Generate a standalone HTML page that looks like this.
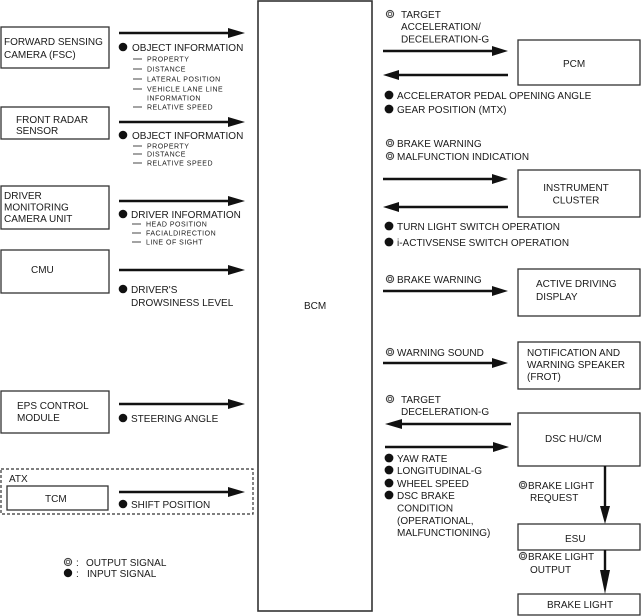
<!DOCTYPE html>
<html>
<head>
<meta charset="utf-8">
<style>
  html,body{margin:0;padding:0;background:#fff;}
  svg{display:block;}
  text{font-family:"Liberation Sans",Arial,sans-serif;fill:#1a1a1a;font-size:10px;}
  .s{font-size:7px;letter-spacing:0.5px;}
  .box{fill:#fff;stroke:#333;stroke-width:1.3;}
  .ln{stroke:#111;stroke-width:2.4;}
  .hd{fill:#111;}
  .sd{stroke:#333;stroke-width:0.9;}
</style>
</head>
<body>
<svg width="642" height="616" viewBox="0 0 642 616" xmlns="http://www.w3.org/2000/svg">
  <!-- BCM -->
  <rect x="258" y="1" width="114" height="610" class="box" style="stroke-width:1.6"/>
  <text x="304" y="309">BCM</text>

  <!-- ===== LEFT SIDE ===== -->
  <!-- FSC -->
  <rect x="1" y="27" width="108" height="41" class="box"/>
  <text x="4" y="45">FORWARD SENSING</text>
  <text x="4" y="58">CAMERA (FSC)</text>
  <line x1="119" y1="33" x2="230" y2="33" class="ln"/>
  <polygon points="228,28 245,33 228,38" class="hd"/>
  <circle cx="123" cy="47" r="4.3" fill="#111"/>
  <text x="132" y="51">OBJECT INFORMATION</text>
  <line x1="133" y1="59" x2="142" y2="59" class="sd"/>
  <text x="147" y="61.5" class="s">PROPERTY</text>
  <line x1="133" y1="69" x2="142" y2="69" class="sd"/>
  <text x="147" y="71.5" class="s">DISTANCE</text>
  <line x1="133" y1="79" x2="142" y2="79" class="sd"/>
  <text x="147" y="81.5" class="s">LATERAL POSITION</text>
  <line x1="133" y1="89" x2="142" y2="89" class="sd"/>
  <text x="147" y="91.5" class="s">VEHICLE LANE LINE</text>
  <text x="147" y="100.5" class="s">INFORMATION</text>
  <line x1="133" y1="107" x2="142" y2="107" class="sd"/>
  <text x="147" y="109.5" class="s">RELATIVE SPEED</text>

  <!-- Front radar -->
  <rect x="1" y="107" width="108" height="32" class="box"/>
  <text x="16" y="123">FRONT RADAR</text>
  <text x="16" y="134">SENSOR</text>
  <line x1="119" y1="122" x2="230" y2="122" class="ln"/>
  <polygon points="228,117 245,122 228,127" class="hd"/>
  <circle cx="123" cy="135" r="4.3" fill="#111"/>
  <text x="132" y="139">OBJECT INFORMATION</text>
  <line x1="133" y1="146" x2="142" y2="146" class="sd"/>
  <text x="147" y="148.5" class="s">PROPERTY</text>
  <line x1="133" y1="154" x2="142" y2="154" class="sd"/>
  <text x="147" y="156.5" class="s">DISTANCE</text>
  <line x1="133" y1="163" x2="142" y2="163" class="sd"/>
  <text x="147" y="165.5" class="s">RELATIVE SPEED</text>

  <!-- Driver monitoring -->
  <rect x="1" y="186" width="108" height="43" class="box"/>
  <text x="4" y="199">DRIVER</text>
  <text x="4" y="210.5">MONITORING</text>
  <text x="4" y="222">CAMERA UNIT</text>
  <line x1="119" y1="201" x2="230" y2="201" class="ln"/>
  <polygon points="228,196 245,201 228,206" class="hd"/>
  <circle cx="123" cy="214" r="4.3" fill="#111"/>
  <text x="131" y="218">DRIVER INFORMATION</text>
  <line x1="132" y1="224" x2="141" y2="224" class="sd"/>
  <text x="146" y="226.5" class="s">HEAD POSITION</text>
  <line x1="132" y1="233" x2="141" y2="233" class="sd"/>
  <text x="146" y="235.5" class="s">FACIALDIRECTION</text>
  <line x1="132" y1="242" x2="141" y2="242" class="sd"/>
  <text x="146" y="244.5" class="s">LINE OF SIGHT</text>

  <!-- CMU -->
  <rect x="1" y="250" width="108" height="43" class="box"/>
  <text x="31" y="273">CMU</text>
  <line x1="119" y1="270" x2="230" y2="270" class="ln"/>
  <polygon points="228,265 245,270 228,275" class="hd"/>
  <circle cx="123" cy="289" r="4.3" fill="#111"/>
  <text x="131" y="293">DRIVER'S</text>
  <text x="131" y="306">DROWSINESS LEVEL</text>

  <!-- EPS -->
  <rect x="1" y="391" width="108" height="42" class="box"/>
  <text x="17" y="409">EPS CONTROL</text>
  <text x="17" y="421">MODULE</text>
  <line x1="119" y1="404" x2="230" y2="404" class="ln"/>
  <polygon points="228,399 245,404 228,409" class="hd"/>
  <circle cx="123" cy="418" r="4.3" fill="#111"/>
  <text x="131" y="422">STEERING ANGLE</text>

  <!-- ATX / TCM -->
  <rect x="1" y="469" width="252" height="45" fill="none" stroke="#333" stroke-width="1.2" stroke-dasharray="3,2"/>
  <text x="9" y="482">ATX</text>
  <rect x="7" y="486" width="101" height="24" class="box"/>
  <text x="45" y="502">TCM</text>
  <line x1="119" y1="492" x2="230" y2="492" class="ln"/>
  <polygon points="228,487 245,492 228,497" class="hd"/>
  <circle cx="123" cy="504" r="4.3" fill="#111"/>
  <text x="131" y="508">SHIFT POSITION</text>

  <!-- Legend -->
  <circle cx="68" cy="562" r="3.6" fill="none" stroke="#444" stroke-width="1.1"/>
  <circle cx="68" cy="562" r="1.8" fill="none" stroke="#444" stroke-width="0.9"/>
  <text x="76" y="566">:</text>
  <text x="86" y="566">OUTPUT SIGNAL</text>
  <circle cx="68" cy="573" r="4.2" fill="#111"/>
  <text x="76" y="577">:</text>
  <text x="87" y="577">INPUT SIGNAL</text>

  <!-- ===== RIGHT SIDE ===== -->
  <!-- PCM -->
  <circle cx="390" cy="14" r="3.6" fill="none" stroke="#444" stroke-width="1.1"/>
  <circle cx="390" cy="14" r="1.8" fill="none" stroke="#444" stroke-width="0.9"/>
  <text x="401" y="18">TARGET</text>
  <text x="401" y="30">ACCELERATION/</text>
  <text x="401" y="42.5">DECELERATION-G</text>
  <line x1="383" y1="51" x2="494" y2="51" class="ln"/>
  <polygon points="492,46 508,51 492,56" class="hd"/>
  <line x1="397" y1="75" x2="508" y2="75" class="ln"/>
  <polygon points="399,70 383,75 399,80" class="hd"/>
  <rect x="518" y="40" width="122" height="45" class="box"/>
  <text x="563" y="67">PCM</text>
  <circle cx="389" cy="95" r="4.4" fill="#111"/>
  <text x="397" y="99">ACCELERATOR PEDAL OPENING ANGLE</text>
  <circle cx="389" cy="109" r="4.4" fill="#111"/>
  <text x="397" y="113">GEAR POSITION (MTX)</text>

  <!-- Instrument cluster -->
  <circle cx="390" cy="143" r="3.6" fill="none" stroke="#444" stroke-width="1.1"/>
  <circle cx="390" cy="143" r="1.8" fill="none" stroke="#444" stroke-width="0.9"/>
  <text x="397" y="147">BRAKE WARNING</text>
  <circle cx="390" cy="156" r="3.6" fill="none" stroke="#444" stroke-width="1.1"/>
  <circle cx="390" cy="156" r="1.8" fill="none" stroke="#444" stroke-width="0.9"/>
  <text x="397" y="160">MALFUNCTION INDICATION</text>
  <line x1="383" y1="179" x2="494" y2="179" class="ln"/>
  <polygon points="492,174 508,179 492,184" class="hd"/>
  <line x1="397" y1="207" x2="508" y2="207" class="ln"/>
  <polygon points="399,202 383,207 399,212" class="hd"/>
  <rect x="518" y="170" width="122" height="47" class="box"/>
  <text x="576" y="191" text-anchor="middle">INSTRUMENT</text>
  <text x="576" y="203.5" text-anchor="middle">CLUSTER</text>
  <circle cx="389" cy="226" r="4.4" fill="#111"/>
  <text x="397" y="230">TURN LIGHT SWITCH OPERATION</text>
  <circle cx="389" cy="242" r="4.4" fill="#111"/>
  <text x="397" y="246">i-ACTIVSENSE SWITCH OPERATION</text>

  <!-- Active driving display -->
  <circle cx="390" cy="279" r="3.6" fill="none" stroke="#444" stroke-width="1.1"/>
  <circle cx="390" cy="279" r="1.8" fill="none" stroke="#444" stroke-width="0.9"/>
  <text x="397" y="283">BRAKE WARNING</text>
  <line x1="383" y1="291" x2="494" y2="291" class="ln"/>
  <polygon points="492,286 508,291 492,296" class="hd"/>
  <rect x="518" y="269" width="122" height="47" class="box"/>
  <text x="536" y="287">ACTIVE DRIVING</text>
  <text x="536" y="300">DISPLAY</text>

  <!-- Notification speaker -->
  <circle cx="390" cy="352" r="3.6" fill="none" stroke="#444" stroke-width="1.1"/>
  <circle cx="390" cy="352" r="1.8" fill="none" stroke="#444" stroke-width="0.9"/>
  <text x="397" y="356">WARNING SOUND</text>
  <line x1="383" y1="363" x2="494" y2="363" class="ln"/>
  <polygon points="492,358 508,363 492,368" class="hd"/>
  <rect x="518" y="342" width="122" height="47" class="box"/>
  <text x="527" y="356">NOTIFICATION AND</text>
  <text x="527" y="368">WARNING SPEAKER</text>
  <text x="527" y="380">(FROT)</text>

  <!-- DSC HU/CM -->
  <circle cx="390" cy="399" r="3.6" fill="none" stroke="#444" stroke-width="1.1"/>
  <circle cx="390" cy="399" r="1.8" fill="none" stroke="#444" stroke-width="0.9"/>
  <text x="401" y="403">TARGET</text>
  <text x="401" y="415">DECELERATION-G</text>
  <line x1="400" y1="424" x2="511" y2="424" class="ln"/>
  <polygon points="402,419 385,424 402,429" class="hd"/>
  <line x1="385" y1="447" x2="495" y2="447" class="ln"/>
  <polygon points="493,442 509,447 493,452" class="hd"/>
  <rect x="518" y="413" width="122" height="53" class="box"/>
  <text x="545" y="442">DSC HU/CM</text>
  <circle cx="389" cy="458" r="4.4" fill="#111"/>
  <text x="397" y="462">YAW RATE</text>
  <circle cx="389" cy="470" r="4.4" fill="#111"/>
  <text x="397" y="474">LONGITUDINAL-G</text>
  <circle cx="389" cy="483" r="4.4" fill="#111"/>
  <text x="397" y="487">WHEEL SPEED</text>
  <circle cx="389" cy="495" r="4.4" fill="#111"/>
  <text x="397" y="499">DSC BRAKE</text>
  <text x="397" y="511.5">CONDITION</text>
  <text x="397" y="524">(OPERATIONAL,</text>
  <text x="397" y="536">MALFUNCTIONING)</text>

  <!-- ESU chain -->
  <circle cx="523" cy="485" r="3.6" fill="none" stroke="#444" stroke-width="1.1"/>
  <circle cx="523" cy="485" r="1.8" fill="none" stroke="#444" stroke-width="0.9"/>
  <text x="528" y="489">BRAKE LIGHT</text>
  <text x="530" y="501">REQUEST</text>
  <line x1="605" y1="466" x2="605" y2="508" class="ln"/>
  <polygon points="600,506 605,524 610,506" class="hd"/>
  <rect x="518" y="524" width="122" height="26" class="box"/>
  <text x="565" y="542">ESU</text>
  <circle cx="523" cy="556" r="3.6" fill="none" stroke="#444" stroke-width="1.1"/>
  <circle cx="523" cy="556" r="1.8" fill="none" stroke="#444" stroke-width="0.9"/>
  <text x="528" y="560">BRAKE LIGHT</text>
  <text x="530" y="573">OUTPUT</text>
  <line x1="605" y1="550" x2="605" y2="572" class="ln"/>
  <polygon points="600,570 605,594 610,570" class="hd"/>
  <rect x="518" y="594" width="122" height="21" class="box"/>
  <text x="547" y="608">BRAKE LIGHT</text>
</svg>
</body>
</html>
